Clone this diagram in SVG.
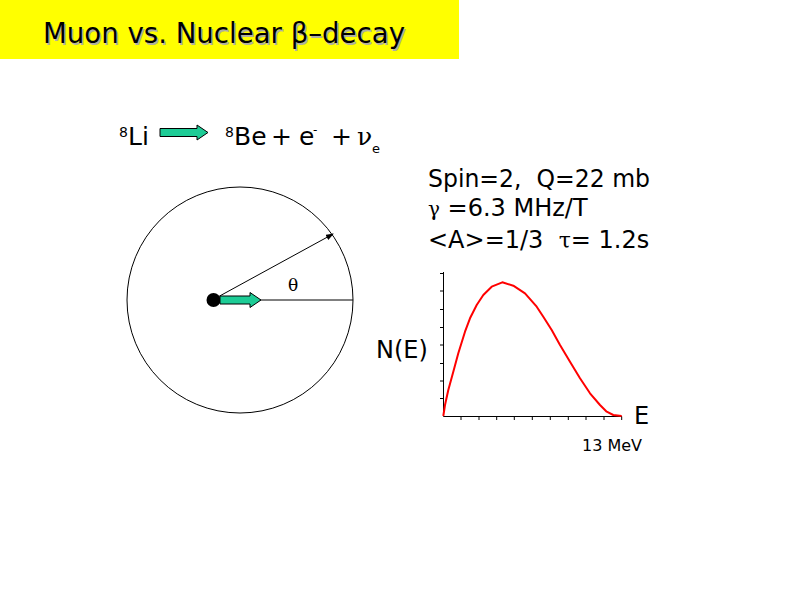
<svg xmlns="http://www.w3.org/2000/svg" width="800" height="600" viewBox="0 0 800 600">
<style>
.t{font-family:"DejaVu Sans",Verdana,sans-serif;fill:#000}
.s{font-family:"DejaVu Serif","Liberation Serif",serif;fill:#000}
.ax{stroke:#000;stroke-width:1;fill:none}
.arr{fill:#1dcc96;stroke:#000;stroke-width:1}
</style>
<defs>
<marker id="ah" markerWidth="8" markerHeight="6" refX="7" refY="3" orient="auto" markerUnits="userSpaceOnUse">
<path d="M0,0 L8,3 L0,6 z" fill="#000"/>
</marker>
</defs>
<rect width="800" height="600" fill="#fff"/>
<g id="title">
<rect x="0" y="0" width="459" height="59" fill="#ffff00"/>
<text class="t" x="44.5" y="44.5" font-size="29" style="fill:#b0b0a0" textLength="362" lengthAdjust="spacingAndGlyphs">Muon vs. Nuclear β–decay</text>
<text class="t" x="43" y="43" font-size="29" textLength="362" lengthAdjust="spacingAndGlyphs">Muon vs. Nuclear β–decay</text>
</g>
<g id="reaction">
<text class="t" x="119" y="137" font-size="14">8</text>
<text class="t" x="128" y="145" font-size="25">Li</text>
<path class="arr" d="M160,128.5 L197,128.5 L197,125 L208,132.5 L197,140 L197,136.5 L160,136.5 z"/>
<text class="t" x="225" y="137" font-size="14">8</text>
<text class="t" x="234" y="145" font-size="25">Be</text>
<text class="t" x="271" y="145" font-size="25">+</text>
<text class="t" x="299" y="145" font-size="25">e</text>
<text class="t" x="313" y="134" font-size="12">-</text>
<text class="t" x="331" y="145" font-size="25">+</text>
<text class="s" x="357" y="145" font-size="25">ν</text>
<text class="t" x="372" y="153" font-size="13">e</text>
</g>
<g id="props">
<text class="t" x="428" y="187" font-size="24" textLength="222" lengthAdjust="spacingAndGlyphs" xml:space="preserve">Spin=2,  Q=22 mb</text>
<text class="t" x="428" y="216" font-size="24" xml:space="preserve"><tspan class="s" font-size="20">γ</tspan> =6.3 MHz/T</text>
<text class="t" x="428" y="248" font-size="24" xml:space="preserve">&lt;A&gt;=1/3  <tspan class="s" font-size="22">τ</tspan>= 1.2s</text>
</g>
<g id="circle">
<circle cx="240" cy="300" r="113" fill="none" stroke="#000" stroke-width="1"/>
</g>
<g id="connectors">
<line x1="213" y1="300" x2="353" y2="300" stroke="#000" stroke-width="1"/>
<line x1="216" y1="298" x2="333" y2="234" stroke="#000" stroke-width="1" marker-end="url(#ah)"/>
</g>
<g id="spin">
<circle cx="213.5" cy="300" r="7" fill="#000"/>
<path class="arr" d="M220,296 L250,296 L250,292.5 L261,300 L250,307.5 L250,304 L220,304 z"/>
<text class="s" x="288" y="291" font-size="17">θ</text>
</g>
<g id="plot">
<path class="ax" d="M443.5,272 L443.5,416.5 L622,416.5"/>
<path class="ax" d="M440,273.5 H443.5 M440,291 H443.5 M440,309.5 H443.5 M440,327.5 H443.5 M440,345 H443.5 M440,363.5 H443.5 M440,381 H443.5 M440,398.5 H443.5
M461,416.5 V420 M479,416.5 V420 M496.7,416.5 V420 M514.3,416.5 V420 M532.3,416.5 V420 M550.3,416.5 V420 M568.3,416.5 V420 M586,416.5 V420 M604,416.5 V420 M621.7,416.5 V420"/>
<path d="M443.3,416 L445,405 L448.3,390 L453.3,371.7 L458.3,353.3 L465,331.7 L470,318.3 L476.7,305 L483.3,295 L491.7,286.7 L502.3,282.3 L513.3,285.7 L525,293.3 L536.7,306.7 L543.3,316.7 L551.7,330 L560,345 L570,361.7 L580,378.3 L590,393.3 L600,405 L606.7,411.7 L613.3,415 L621.7,416" fill="none" stroke="#ff0000" stroke-width="2" stroke-linejoin="round"/>
<text class="t" x="376" y="358" font-size="24">N(E)</text>
<text class="t" x="634" y="424" font-size="24">E</text>
<text class="t" x="582" y="451" font-size="16">13 MeV</text>
</g>
</svg>
